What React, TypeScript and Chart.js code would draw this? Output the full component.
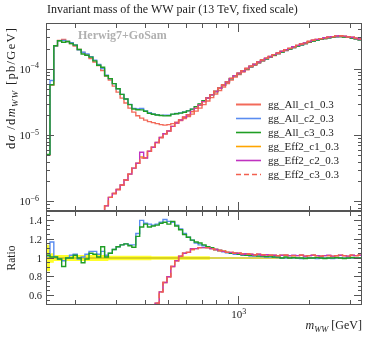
import React, { useEffect, useRef } from "react";
import { Chart, registerables } from "chart.js";

Chart.register(...registerables);

const CANVAS_W = 374;
const CANVAS_H = 337;
const SERIF = "'Liberation Serif', 'Times New Roman', serif";
const TEXT = "#222222";
const FRAME = "#555555";

const AREA_LEFT = 46;
const AREA_RIGHT = 362;
const MAIN_TOP = 23;
const MAIN_BOTTOM = 211;
const RATIO_BOTTOM = 305;

const titleText = "Invariant mass of the WW pair (13 TeV, fixed scale)";
const generatorText = "Herwig7+GoSam";

// bin edges of m_WW [GeV]
const binEdges = [150, 156, 162, 168, 175, 182, 189, 196, 204, 212, 220, 229, 238, 247, 257, 267, 277, 288, 299, 311, 323, 336, 349, 363, 377, 392, 407, 423, 439, 457, 474, 493, 512, 532, 553, 575, 597, 621, 645, 670, 696, 724, 752, 781, 812, 844, 877, 911, 946, 984, 1022, 1062, 1104, 1147, 1192, 1238, 1287, 1337, 1389, 1444, 1500, 1559, 1620, 1683, 1749, 1817, 1888, 1962, 2039, 2119, 2202, 2288, 2377, 2470, 2567, 2667, 2772, 2880, 2993, 3110, 3232, 3358];

// gg_All_c1_0.3 : dsigma/dm [pb/GeV]  (reference of the ratio)
const allC1 = [
  5.07e-6, 5.79e-5, 2.25e-4, 2.72e-4, 2.82e-4, 2.63e-4, 2.455e-4, 2.25e-4, 1.99e-4, 1.795e-4,
  1.644e-4, 1.455e-4, 1.288e-4, 1.141e-4, 9.59e-5, 7.92e-5, 6.89e-5, 5.59e-5, 4.54e-5, 3.68e-5,
  3.10e-5, 2.60e-5, 2.265e-5, 2.00e-5, 1.838e-5, 1.714e-5, 1.627e-5, 1.571e-5, 1.518e-5, 1.466e-5,
  1.441e-5, 1.466e-5, 1.518e-5, 1.60e-5, 1.684e-5, 1.806e-5, 1.94e-5, 2.11e-5, 2.34e-5, 2.60e-5,
  2.94e-5, 3.33e-5, 3.75e-5, 4.24e-5, 4.79e-5, 5.41e-5, 6.10e-5, 6.89e-5, 7.65e-5, 8.34e-5,
  9.10e-5, 9.83e-5, 1.072e-4, 1.153e-4, 1.241e-4, 1.335e-4, 1.421e-4, 1.518e-4, 1.616e-4, 1.720e-4,
  1.819e-4, 1.917e-4, 2.02e-4, 2.13e-4, 2.24e-4, 2.345e-4, 2.455e-4, 2.56e-4, 2.67e-4, 2.76e-4,
  2.85e-4, 2.92e-4, 2.99e-4, 3.05e-4, 3.10e-4, 3.11e-4, 3.09e-4, 3.03e-4, 2.96e-4, 2.88e-4, 2.78e-4,
];

// ratios to gg_All_c1_0.3
const ratioAllC2 = [
  1.02, 1.17, 1.01, 0.99, 0.97, 1.00, 1.03, 1.04, 0.99, 1.01,
  1.04, 1.07, 1.07, 1.04, 1.07, 1.03, 1.05, 1.09, 1.12, 1.14,
  1.15, 1.14, 1.14, 1.26, 1.40, 1.37, 1.36, 1.35, 1.36, 1.38,
  1.41, 1.39, 1.38, 1.35, 1.31, 1.26, 1.22, 1.19, 1.16, 1.14,
  1.13, 1.11, 1.10, 1.09, 1.08, 1.065, 1.055, 1.05, 1.04, 1.04,
  1.03, 1.03, 1.02, 1.02, 1.02, 1.015, 1.01, 1.01, 1.01, 1.005,
  1.00, 1.00, 1.005, 1.00, 1.00, 0.995, 1.00, 1.00, 1.00, 0.995,
  1.00, 1.00, 1.00, 0.995, 1.00, 1.00, 1.00, 1.00, 1.00, 1.00, 1.00,
];
const ratioAllC3 = [
  1.03, 1.01, 1.01, 0.99, 0.91, 1.00, 1.00, 1.03, 1.00, 0.95,
  0.99, 1.05, 1.04, 1.01, 1.12, 1.01, 1.05, 1.09, 1.12, 1.14,
  1.15, 1.13, 1.115, 1.23, 1.33, 1.36, 1.33, 1.34, 1.35, 1.37,
  1.38, 1.36, 1.39, 1.34, 1.30, 1.25, 1.22, 1.19, 1.17, 1.16,
  1.14, 1.12, 1.11, 1.09, 1.08, 1.07, 1.06, 1.05, 1.05, 1.04,
  1.035, 1.03, 1.03, 1.025, 1.02, 1.02, 1.015, 1.02, 1.01, 1.01,
  1.00, 1.01, 1.00, 1.005, 1.00, 1.00, 0.995, 1.00, 1.00, 1.005,
  1.00, 0.995, 1.00, 1.00, 1.005, 1.00, 0.995, 1.00, 1.005, 1.00, 1.00,
];
const ratioEff2C1 = [
  null, null, null, null, null, null, null, null, null, null,
  null, null, null, null, 0.004, 0.011, 0.017, 0.024, 0.034, 0.049,
  0.069, 0.101, 0.143, 0.192, 0.26, 0.27, 0.358, 0.426, 0.52, 0.64,
  0.74, 0.80, 0.91, 0.97, 1.02, 1.05, 1.06, 1.09, 1.10, 1.11,
  1.11, 1.11, 1.10, 1.09, 1.08, 1.075, 1.06, 1.06, 1.05, 1.05,
  1.045, 1.045, 1.04, 1.035, 1.04, 1.035, 1.035, 1.03, 1.03, 1.025,
  1.03, 1.03, 1.025, 1.025, 1.025, 1.03, 1.02, 1.025, 1.03, 1.025,
  1.02, 1.025, 1.025, 1.02, 1.025, 1.03, 1.025, 1.02, 1.03, 1.025, 1.03,
];
const ratioEff2C2 = [
  null, null, null, null, null, null, null, null, null, null,
  null, null, null, null, 0.004, 0.011, 0.017, 0.024, 0.034, 0.049,
  0.069, 0.101, 0.143, 0.192, 0.306, 0.267, 0.358, 0.426, 0.52, 0.64,
  0.74, 0.80, 0.91, 0.97, 1.02, 1.05, 1.06, 1.10, 1.10, 1.11,
  1.11, 1.11, 1.10, 1.09, 1.08, 1.07, 1.06, 1.06, 1.05, 1.05,
  1.04, 1.045, 1.04, 1.035, 1.04, 1.03, 1.035, 1.03, 1.03, 1.025,
  1.03, 1.03, 1.025, 1.03, 1.025, 1.03, 1.02, 1.025, 1.03, 1.025,
  1.02, 1.025, 1.03, 1.02, 1.025, 1.03, 1.025, 1.02, 1.03, 1.025, 1.03,
];
const ratioEff2C3 = [
  null, null, null, null, null, null, null, null, null, null,
  null, null, null, null, 0.004, 0.011, 0.017, 0.024, 0.034, 0.049,
  0.069, 0.101, 0.143, 0.192, 0.25, 0.27, 0.358, 0.426, 0.52, 0.64,
  0.74, 0.80, 0.91, 0.97, 1.02, 1.05, 1.06, 1.09, 1.10, 1.11,
  1.11, 1.11, 1.10, 1.09, 1.08, 1.075, 1.06, 1.06, 1.05, 1.05,
  1.045, 1.045, 1.04, 1.035, 1.04, 1.035, 1.035, 1.03, 1.03, 1.025,
  1.03, 1.03, 1.025, 1.025, 1.025, 1.03, 1.02, 1.025, 1.03, 1.025,
  1.02, 1.025, 1.025, 1.02, 1.025, 1.03, 1.025, 1.02, 1.03, 1.025, 1.03,
];

// relative MC uncertainty of the reference (yellow band)
const refErrRel = [
  0.14, 0.05, 0.032, 0.032, 0.032, 0.032, 0.032, 0.032, 0.032, 0.032,
  0.032, 0.032, 0.032, 0.032, 0.032, 0.032, 0.025, 0.025, 0.025, 0.025,
  0.025, 0.025, 0.025, 0.025, 0.025, 0.025, 0.025, 0.018, 0.018, 0.018,
  0.018, 0.018, 0.018, 0.018, 0.018, 0.018, 0.018, 0.018, 0.018, 0.018,
  0.018, 0.018, 0.005, 0.005, 0.005, 0.005, 0.005, 0.005, 0.005, 0.005,
  0.005, 0.005, 0.005, 0.005, 0.005, 0.005, 0.005, 0.005, 0.005, 0.005,
  0.005, 0.005, 0.005, 0.005, 0.005, 0.005, 0.005, 0.005, 0.005, 0.005,
  0.005, 0.005, 0.005, 0.005, 0.005, 0.005, 0.005, 0.005, 0.005, 0.005, 0.005,
];

const seriesLabels = ["gg_All_c1_0.3", "gg_All_c2_0.3", "gg_All_c3_0.3", "gg_Eff2_c1_0.3", "gg_Eff2_c2_0.3", "gg_Eff2_c3_0.3"];
const seriesColors = ["#f26a5a", "#5a8cf0", "#1f9e24", "#ffa500", "#c032c0", "#f2604f"];
const seriesDashes = [[], [], [], [], [], [5, 3]];

const xRange = [150, 3358];
const mainYRange = [7.3e-7, 5.0e-4];
const ratioYRange = [0.5, 1.5];

const xMajorTicks = [1000];
const xMajorExponents = ["3"];
const xMinorTicks = [200, 300, 400, 500, 600, 700, 800, 900, 2000, 3000];
const mainYMajorTicks = [1e-6, 1e-5, 1e-4];
const mainYExponents = ["\u22126", "\u22125", "\u22124"];
const mainYMinorTicks = [8e-7, 9e-7, 2e-6, 3e-6, 4e-6, 5e-6, 6e-6, 7e-6, 8e-6, 9e-6, 2e-5, 3e-5, 4e-5, 5e-5, 6e-5, 7e-5, 8e-5, 9e-5, 2e-4, 3e-4, 4e-4];
const ratioYMajorTicks = [0.6, 0.8, 1.0, 1.2, 1.4];
const ratioYTickLabels = ["0.6", "0.8", "1", "1.2", "1.4"];
const ratioYMinorTicks = [0.55, 0.65, 0.7, 0.75, 0.85, 0.9, 0.95, 1.05, 1.1, 1.15, 1.25, 1.3, 1.35, 1.45];

type Pt = { x: number; y: number | null };
function histPoints(vals: (number | null)[]): Pt[] {
  const pts: Pt[] = vals.map((v, i) => ({ x: binEdges[i], y: v }));
  pts.push({ x: binEdges[vals.length], y: vals[vals.length - 1] });
  return pts;
}

const ratioSeries = [allC1.map((v) => v / v), ratioAllC2, ratioAllC3, ratioEff2C1, ratioEff2C2, ratioEff2C3];
const mainSeries = ratioSeries.map((r) => r.map((v, i) => (v == null ? null : v * allC1[i])));

function seg(ctx: CanvasRenderingContext2D, x1: number, y1: number, x2: number, y2: number) {
  ctx.beginPath();
  ctx.moveTo(x1, y1);
  ctx.lineTo(x2, y2);
  ctx.stroke();
}
const crisp = (v: number) => Math.round(v - 0.5) + 0.5;

function drawFrameTicks(chart: any, yMajor: number[], yMinor: number[]) {
  const ctx: CanvasRenderingContext2D = chart.ctx;
  const a = chart.chartArea;
  const xs = chart.scales.x;
  const ys = chart.scales.y;
  ctx.strokeStyle = FRAME;
  ctx.lineWidth = 1;
  ctx.setLineDash([]);
  const xt: [number[], number][] = [[xMajorTicks, 9], [xMinorTicks, 5]];
  for (const [vals, len] of xt) {
    for (const v of vals) {
      const x = crisp(xs.getPixelForValue(v));
      seg(ctx, x, a.bottom, x, a.bottom - len);
      seg(ctx, x, a.top, x, a.top + len);
    }
  }
  const yt: [number[], number][] = [[yMajor, 8], [yMinor, 4]];
  for (const [vals, len] of yt) {
    for (const v of vals) {
      const y = crisp(ys.getPixelForValue(v));
      seg(ctx, a.left, y, a.left + len, y);
      seg(ctx, a.right, y, a.right - len, y);
    }
  }
  ctx.strokeRect(a.left + 0.5, a.top + 0.5, a.right - a.left - 1, a.bottom - a.top - 1);
}

type Part = { t: string; font: string; dy?: number };
function drawRich(ctx: CanvasRenderingContext2D, parts: Part[], x: number, y: number, align: "left" | "right" | "center", spacing = 0) {
  ctx.textAlign = "left";
  ctx.textBaseline = "alphabetic";
  const chars: { c: string; font: string; dy: number; w: number }[] = [];
  parts.forEach((p) => {
    ctx.font = p.font;
    if (spacing === 0) {
      chars.push({ c: p.t, font: p.font, dy: p.dy || 0, w: ctx.measureText(p.t).width });
    } else {
      for (const c of Array.from(p.t)) chars.push({ c, font: p.font, dy: p.dy || 0, w: ctx.measureText(c).width + spacing });
    }
  });
  const total = chars.reduce((s, c) => s + c.w, 0) - (spacing > 0 ? spacing : 0);
  let cx = align === "right" ? x - total : align === "center" ? x - total / 2 : x;
  chars.forEach((c) => {
    ctx.font = c.font;
    ctx.fillText(c.c, cx, y + c.dy);
    cx += c.w;
  });
}

function powParts(base: string, exp: string): Part[] {
  return [
    { t: base, font: `11px ${SERIF}` },
    { t: exp, font: `8px ${SERIF}`, dy: -4.5 },
  ];
}

const mainDecor = {
  id: "mainDecor",
  afterDraw(chart: any) {
    const ctx: CanvasRenderingContext2D = chart.ctx;
    const ys = chart.scales.y;
    ctx.save();
    drawFrameTicks(chart, mainYMajorTicks, mainYMinorTicks);
    ctx.fillStyle = TEXT;
    mainYMajorTicks.forEach((v, i) => {
      drawRich(ctx, powParts("10", mainYExponents[i]), 39, ys.getPixelForValue(v) + 3.5, "right");
    });
    // title
    drawRich(ctx, [{ t: titleText, font: `12px ${SERIF}` }], 47, 13, "left");
    // generator label
    ctx.fillStyle = "#b0b0b0";
    drawRich(ctx, [{ t: generatorText, font: `bold 12px ${SERIF}` }], 78, 39, "left");
    // legend
    seriesLabels.forEach((lab, i) => {
      const y = 104.5 + 14 * i;
      ctx.strokeStyle = seriesColors[i];
      ctx.lineWidth = i === 0 ? 2 : 1.6;
      ctx.setLineDash(seriesDashes[i]);
      seg(ctx, 236, y, 261, y);
      ctx.setLineDash([]);
      ctx.fillStyle = TEXT;
      drawRich(ctx, [{ t: lab, font: `11px ${SERIF}` }], 268, y + 3.5, "left");
    });
    // y label
    ctx.fillStyle = TEXT;
    ctx.save();
    ctx.translate(15, 28);
    ctx.rotate(-Math.PI / 2);
    drawRich(
      ctx,
      [
        { t: "d", font: `12.5px ${SERIF}` },
        { t: "\u03c3", font: `italic 12.5px ${SERIF}` },
        { t: " /d", font: `12.5px ${SERIF}` },
        { t: "m", font: `italic 12.5px ${SERIF}` },
        { t: "WW", font: `italic 9px ${SERIF}`, dy: 3 },
        { t: " [pb/GeV]", font: `12.5px ${SERIF}` },
      ],
      0,
      0,
      "right",
      1.3
    );
    ctx.restore();
    ctx.restore();
  },
};

const ratioDecor = {
  id: "ratioDecor",
  afterDraw(chart: any) {
    const ctx: CanvasRenderingContext2D = chart.ctx;
    const xs = chart.scales.x;
    const ys = chart.scales.y;
    ctx.save();
    drawFrameTicks(chart, ratioYMajorTicks, ratioYMinorTicks);
    ctx.fillStyle = TEXT;
    ratioYMajorTicks.forEach((v, i) => {
      drawRich(ctx, [{ t: ratioYTickLabels[i], font: `10.5px ${SERIF}` }], 42, ys.getPixelForValue(v) + 3.5, "right");
    });
    xMajorTicks.forEach((v, i) => {
      drawRich(ctx, powParts("10", xMajorExponents[i]), xs.getPixelForValue(v), 318, "center");
    });
    drawRich(
      ctx,
      [
        { t: "m", font: `italic 12px ${SERIF}` },
        { t: "WW", font: `italic 8.5px ${SERIF}`, dy: 3 },
        { t: " [GeV]", font: `12px ${SERIF}` },
      ],
      362,
      329,
      "right"
    );
    ctx.save();
    ctx.translate(15, 258);
    ctx.rotate(-Math.PI / 2);
    drawRich(ctx, [{ t: "Ratio", font: `11.5px ${SERIF}` }], 0, 0, "center");
    ctx.restore();
    ctx.restore();
  },
};

function baseOptions(top: number, bottom: number, yType: string, yRange: number[]) {
  return {
    animation: false as const,
    responsive: false,
    maintainAspectRatio: false,
    events: [] as any[],
    layout: { padding: { left: AREA_LEFT, right: CANVAS_W - AREA_RIGHT, top, bottom: CANVAS_H - bottom } },
    scales: {
      x: { type: "logarithmic" as const, min: xRange[0], max: xRange[1], display: false },
      y: { type: yType as any, min: yRange[0], max: yRange[1], display: false },
    },
    plugins: { legend: { display: false }, tooltip: { enabled: false }, title: { display: false } },
    elements: { point: { radius: 0 }, line: { tension: 0 } },
  };
}

function lineDataset(vals: (number | null)[], i: number) {
  return {
    label: seriesLabels[i],
    data: histPoints(vals),
    borderColor: seriesColors[i],
    borderWidth: 1.4,
    borderDash: seriesDashes[i],
    stepped: true,
    pointRadius: 0,
    fill: false,
    spanGaps: false,
    order: 5 - i,
  };
}

export default function App() {
  const mainRef = useRef<HTMLCanvasElement>(null);
  const ratioRef = useRef<HTMLCanvasElement>(null);

  useEffect(() => {
    const main = new Chart(mainRef.current as HTMLCanvasElement, {
      type: "line",
      data: { datasets: mainSeries.map((vals, i) => lineDataset(vals, i)) as any },
      options: baseOptions(MAIN_TOP, MAIN_BOTTOM, "logarithmic", mainYRange) as any,
      plugins: [mainDecor],
    });

    const ratioDatasets: any[] = [
      {
        label: "band up",
        data: histPoints(refErrRel.map((e) => 1 + e)),
        borderWidth: 0,
        borderColor: "rgba(0,0,0,0)",
        backgroundColor: "#ffff2a",
        fill: "+1",
        stepped: true,
        pointRadius: 0,
        order: 20,
      },
      {
        label: "band down",
        data: histPoints(refErrRel.map((e) => 1 - e)),
        borderWidth: 0,
        borderColor: "rgba(0,0,0,0)",
        fill: false,
        stepped: true,
        pointRadius: 0,
        order: 21,
      },
      {
        label: seriesLabels[0],
        data: histPoints(ratioSeries[0]),
        borderColor: "#b4a614",
        borderWidth: 1.2,
        stepped: true,
        pointRadius: 0,
        fill: false,
        order: 15,
      },
    ];
    for (let i = 1; i < ratioSeries.length; i++) ratioDatasets.push(lineDataset(ratioSeries[i], i));

    const ratio = new Chart(ratioRef.current as HTMLCanvasElement, {
      type: "line",
      data: { datasets: ratioDatasets },
      options: baseOptions(MAIN_BOTTOM, RATIO_BOTTOM, "linear", ratioYRange) as any,
      plugins: [ratioDecor],
    });

    return () => {
      main.destroy();
      ratio.destroy();
    };
  }, []);

  const cs: React.CSSProperties = { position: "absolute", left: 0, top: 0, width: CANVAS_W, height: CANVAS_H };
  return (
    <div style={{ position: "fixed", left: 0, top: 0, width: CANVAS_W, height: CANVAS_H, background: "#ffffff" }}>
      <canvas ref={mainRef} width={CANVAS_W} height={CANVAS_H} style={cs} />
      <canvas ref={ratioRef} width={CANVAS_W} height={CANVAS_H} style={cs} />
    </div>
  );
}
